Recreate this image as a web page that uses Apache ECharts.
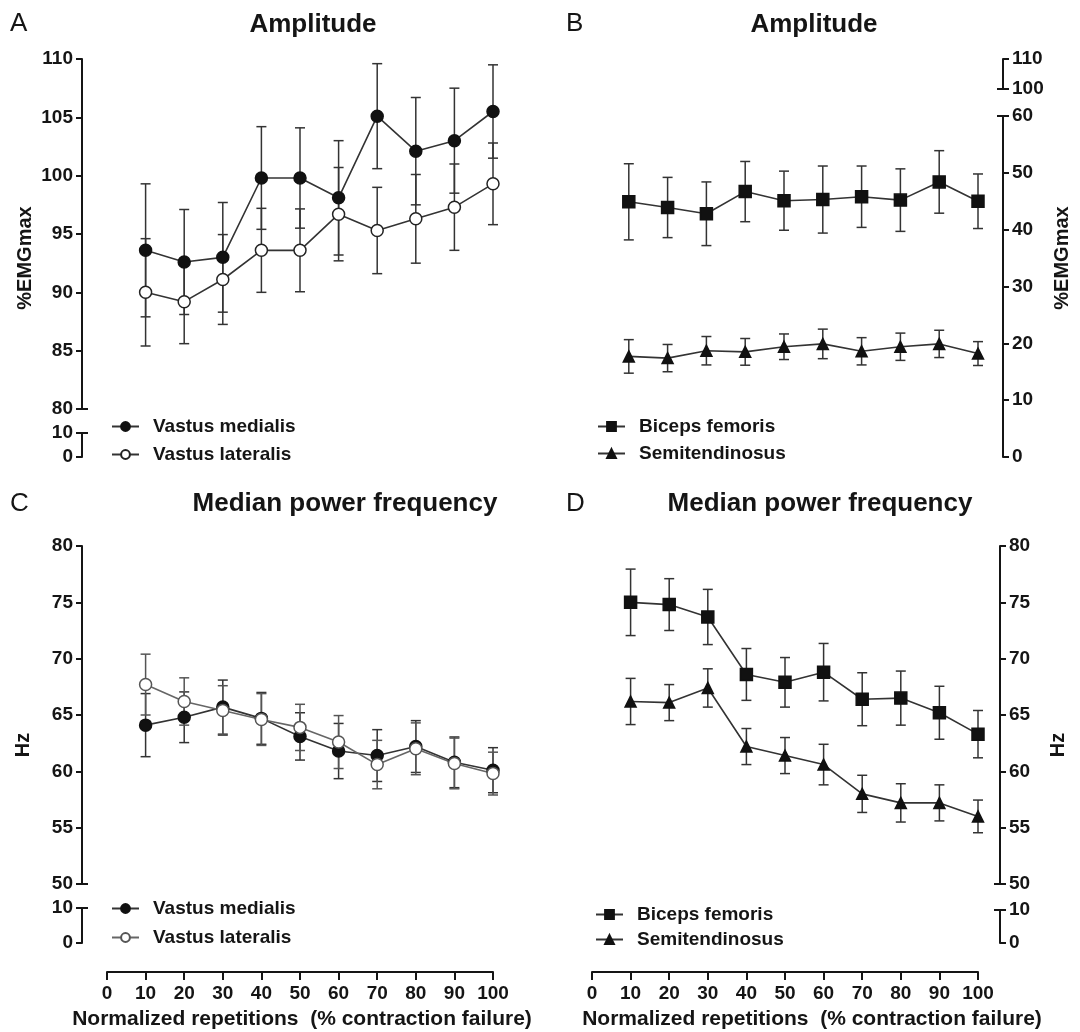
<!DOCTYPE html>
<html>
<head>
<meta charset="utf-8">
<script src="https://cdn.jsdelivr.net/npm/echarts@6/dist/echarts.min.js"></script>
<style>
html,body{margin:0;padding:0;background:#fff;}
#chart{width:1080px;height:1032px;}
</style>
</head>
<body>
<div id="chart"></div>
<script>
// ---------------- data ----------------
const xVals = [10, 20, 30, 40, 50, 60, 70, 80, 90, 100];
const xTicks = [0, 10, 20, 30, 40, 50, 60, 70, 80, 90, 100];

// A: amplitude (%EMGmax), quadriceps
const vmAmpMean = [93.6, 92.6, 93.0, 99.8, 99.8, 98.1, 105.1, 102.1, 103.0, 105.5];
const vmAmpSD   = [5.7, 4.5, 4.7, 4.4, 4.3, 4.9, 4.5, 4.6, 4.5, 4.0];
const vlAmpMean = [90.0, 89.2, 91.1, 93.6, 93.6, 96.7, 95.3, 96.3, 97.3, 99.3];
const vlAmpSD   = [4.6, 3.6, 3.85, 3.6, 3.55, 4.0, 3.7, 3.8, 3.7, 3.5];

// B: amplitude (%EMGmax), hamstrings
const bfAmpMean = [44.9, 43.9, 42.8, 46.7, 45.1, 45.3, 45.8, 45.2, 48.4, 45.0];
const bfAmpSD   = [6.7, 5.3, 5.6, 5.3, 5.2, 5.9, 5.4, 5.5, 5.5, 4.8];
const stAmpMean = [17.7, 17.4, 18.7, 18.5, 19.4, 19.9, 18.6, 19.4, 19.9, 18.2];
const stAmpSD   = [2.95, 2.4, 2.5, 2.35, 2.25, 2.6, 2.4, 2.4, 2.4, 2.1];

// C: median power frequency (Hz), quadriceps
const vmMpfMean = [64.1, 64.8, 65.7, 64.7, 63.1, 61.8, 61.4, 62.2, 60.8, 60.1];
const vmMpfSD   = [2.8, 2.25, 2.4, 2.3, 2.1, 2.45, 2.3, 2.3, 2.25, 2.0];
const vlMpfMean = [67.7, 66.2, 65.4, 64.6, 63.9, 62.6, 60.6, 62.0, 60.7, 59.8];
const vlMpfSD   = [2.7, 2.1, 2.2, 2.3, 2.05, 2.35, 2.15, 2.3, 2.25, 1.9];

// D: median power frequency (Hz), hamstrings
const bfMpfMean = [75.0, 74.8, 73.7, 68.6, 67.9, 68.8, 66.4, 66.5, 65.2, 63.3];
const bfMpfSD   = [2.95, 2.3, 2.45, 2.3, 2.2, 2.55, 2.35, 2.4, 2.35, 2.1];
const stMpfMean = [66.2, 66.1, 67.4, 62.2, 61.4, 60.6, 58.0, 57.2, 57.2, 56.0];
const stMpfSD   = [2.05, 1.6, 1.7, 1.6, 1.6, 1.8, 1.65, 1.7, 1.6, 1.45];

// ---------------- styling helpers ----------------
const FONT = '"Liberation Sans", Arial, Helvetica, sans-serif';
const INK = '#151515';
const LINE = '#333';

function baseY(grid, min, max, interval, pos, offset) {
  return {
    gridIndex: grid, type: 'value', min: min, max: max, interval: interval,
    position: pos, offset: offset,
    axisLine: {show: true, onZero: false, lineStyle: {color: INK, width: 2}},
    axisTick: {show: true, length: 6, lineStyle: {color: INK, width: 2}},
    axisLabel: {show: true, fontFamily: FONT, fontSize: 19, fontWeight: 'bold', color: INK, margin: 9},
    splitLine: {show: false}
  };
}
function capY(grid, min, max, interval, pos, offset, capVal) {
  return {
    gridIndex: grid, type: 'value', min: min, max: max, interval: interval,
    position: pos, offset: offset,
    axisLine: {show: false, onZero: false},
    axisTick: {show: true, inside: true, length: 6, customValues: [capVal], lineStyle: {color: INK, width: 2}},
    axisLabel: {show: false},
    splitLine: {show: false}
  };
}
function hiddenX(grid) {
  return {gridIndex: grid, type: 'value', min: 0, max: 100, show: false, splitLine: {show: false}};
}
function shownX(grid) {
  return {
    gridIndex: grid, type: 'value', min: 0, max: 100, interval: 10,
    position: 'bottom', offset: 29,
    axisLine: {show: true, onZero: false, lineStyle: {color: INK, width: 2}},
    axisTick: {show: true, length: 8, lineStyle: {color: INK, width: 2}},
    axisLabel: {show: true, fontFamily: FONT, fontSize: 19, fontWeight: 'bold', color: INK, margin: 12,
      customValues: xTicks},
    splitLine: {show: false}
  };
}

function lineSeries(name, ax, means, symbol, size, fill, stroke, lineColor) {
  return {
    type: 'line', name: name, xAxisIndex: ax, yAxisIndex: ax,
    data: xVals.map((x, i) => [x, means[i]]),
    symbol: symbol, symbolSize: size, showAllSymbol: true,
    itemStyle: {color: fill, borderColor: stroke, borderWidth: 1.5, opacity: 1},
    lineStyle: {color: lineColor, width: 1.6},
    z: 4, silent: true, animation: false
  };
}
function errSeries(ax, means, sds, color) {
  return {
    type: 'custom', xAxisIndex: ax, yAxisIndex: ax,
    data: xVals.map((x, i) => [x, means[i] - sds[i], means[i] + sds[i]]),
    encode: {x: 0, y: [1, 2]},
    renderItem: function (params, api) {
      const x = api.value(0);
      const lo = api.coord([x, api.value(1)]);
      const hi = api.coord([x, api.value(2)]);
      const w = 5;
      const st = {stroke: color, lineWidth: 1.5, fill: null};
      return {type: 'group', children: [
        {type: 'line', shape: {x1: hi[0], y1: hi[1], x2: lo[0], y2: lo[1]}, style: st},
        {type: 'line', shape: {x1: hi[0] - w, y1: hi[1], x2: hi[0] + w, y2: hi[1]}, style: st},
        {type: 'line', shape: {x1: lo[0] - w, y1: lo[1], x2: lo[0] + w, y2: lo[1]}, style: st}
      ]};
    },
    z: 2, silent: true, animation: false
  };
}
function legendFor(names, left, top, gap) {
  return {
    data: names, formatter: n => n.split('|')[1],
    orient: 'vertical', left: left, top: top, itemGap: gap,
    itemWidth: 27, itemHeight: 11, selectedMode: false,
    textStyle: {fontFamily: FONT, fontSize: 19, fontWeight: 'bold', color: INK, padding: [0, 0, 0, 9]}
  };
}
function txt(s, x, y, size, weight, align, rot) {
  return {
    type: 'text', x: x, y: y, rotation: rot || 0,
    style: {text: s, fontFamily: FONT, fontSize: size, fontWeight: weight, fill: INK,
      textAlign: align, textVerticalAlign: 'middle'}
  };
}

const option = {
  backgroundColor: '#fff',
  animation: false,
  grid: [
    {left: 107, top: 59,  width: 386, height: 350, outerBoundsMode: 'none'},
    {left: 107, top: 433, width: 386, height: 24,  outerBoundsMode: 'none'},
    {left: 590, top: 116, width: 388, height: 341, outerBoundsMode: 'none'},
    {left: 590, top: 59,  width: 388, height: 30,  outerBoundsMode: 'none'},
    {left: 107, top: 546, width: 386, height: 338, outerBoundsMode: 'none'},
    {left: 107, top: 908, width: 386, height: 35,  outerBoundsMode: 'none'},
    {left: 592, top: 546, width: 386, height: 338, outerBoundsMode: 'none'},
    {left: 592, top: 910, width: 386, height: 33,  outerBoundsMode: 'none'}
  ],
  xAxis: [hiddenX(0), hiddenX(1), hiddenX(2), hiddenX(3), hiddenX(4), shownX(5), hiddenX(6), shownX(7)],
  yAxis: [
    baseY(0, 80, 110, 5, 'left', 25),
    baseY(1, 0, 10, 10, 'left', 25),
    baseY(2, 0, 60, 10, 'right', 25),
    baseY(3, 100, 110, 10, 'right', 25),
    baseY(4, 50, 80, 5, 'left', 25),
    baseY(5, 0, 10, 10, 'left', 25),
    baseY(6, 50, 80, 5, 'right', 22),
    baseY(7, 0, 10, 10, 'right', 22),
    capY(0, 80, 110, 5, 'left', 25, 80),
    capY(1, 0, 10, 10, 'left', 25, 10),
    capY(2, 0, 60, 10, 'right', 25, 60),
    capY(3, 100, 110, 10, 'right', 25, 100),
    capY(4, 50, 80, 5, 'left', 25, 50),
    capY(5, 0, 10, 10, 'left', 25, 10),
    capY(6, 50, 80, 5, 'right', 22, 50),
    capY(7, 0, 10, 10, 'right', 22, 10)
  ],
  legend: [
    legendFor(['A|Vastus medialis', 'A|Vastus lateralis'], 106, 412, 9),
    legendFor(['B|Biceps femoris', 'B|Semitendinosus'], 592, 412, 8),
    legendFor(['C|Vastus medialis', 'C|Vastus lateralis'], 106, 894, 10),
    legendFor(['D|Biceps femoris', 'D|Semitendinosus'], 590, 900, 6)
  ],
  series: [
    errSeries(0, vmAmpMean, vmAmpSD, LINE),
    errSeries(0, vlAmpMean, vlAmpSD, LINE),
    lineSeries('A|Vastus medialis', 0, vmAmpMean, 'circle', 12, '#111', '#111', LINE),
    lineSeries('A|Vastus lateralis', 0, vlAmpMean, 'circle', 12, '#fff', '#222', LINE),

    errSeries(2, bfAmpMean, bfAmpSD, LINE),
    errSeries(2, stAmpMean, stAmpSD, LINE),
    lineSeries('B|Biceps femoris', 2, bfAmpMean, 'rect', 12, '#111', '#111', LINE),
    lineSeries('B|Semitendinosus', 2, stAmpMean, 'triangle', 11, '#111', '#111', LINE),

    errSeries(4, vmMpfMean, vmMpfSD, LINE),
    errSeries(4, vlMpfMean, vlMpfSD, '#555'),
    lineSeries('C|Vastus medialis', 4, vmMpfMean, 'circle', 12, '#111', '#111', LINE),
    lineSeries('C|Vastus lateralis', 4, vlMpfMean, 'circle', 12, '#fff', '#555', '#666'),

    errSeries(6, bfMpfMean, bfMpfSD, LINE),
    errSeries(6, stMpfMean, stMpfSD, LINE),
    lineSeries('D|Biceps femoris', 6, bfMpfMean, 'rect', 12, '#111', '#111', LINE),
    lineSeries('D|Semitendinosus', 6, stMpfMean, 'triangle', 11, '#111', '#111', LINE)
  ],
  graphic: [
    txt('A', 10, 24, 26, 'normal', 'left'),
    txt('Amplitude', 313, 25, 26, 'bold', 'center'),
    txt('B', 566, 24, 26, 'normal', 'left'),
    txt('Amplitude', 814, 25, 26, 'bold', 'center'),
    txt('C', 10, 504, 26, 'normal', 'left'),
    txt('Median power frequency', 345, 504, 26, 'bold', 'center'),
    txt('D', 566, 504, 26, 'normal', 'left'),
    txt('Median power frequency', 820, 504, 26, 'bold', 'center'),
    txt('%EMGmax', 25, 258, 20, 'bold', 'center', Math.PI / 2),
    txt('%EMGmax', 1062, 258, 20, 'bold', 'center', Math.PI / 2),
    txt('Hz', 23, 745, 20, 'bold', 'center', Math.PI / 2),
    txt('Hz', 1058, 745, 20, 'bold', 'center', Math.PI / 2),
    txt('Normalized repetitions  (% contraction failure)', 302, 1019, 21, 'bold', 'center'),
    txt('Normalized repetitions  (% contraction failure)', 812, 1019, 21, 'bold', 'center')
  ]
};

const chart = echarts.init(document.getElementById('chart'), null, {renderer: 'canvas'});
chart.setOption(option);
</script>
</body>
</html>
